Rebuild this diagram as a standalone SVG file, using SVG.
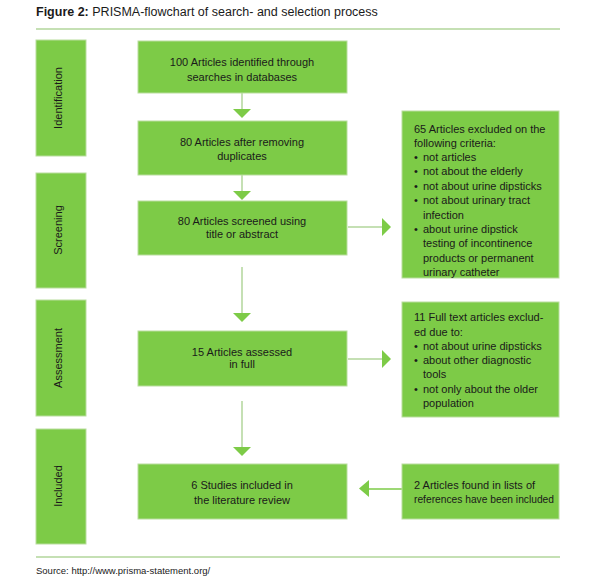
<svg xmlns="http://www.w3.org/2000/svg" width="595" height="580" viewBox="0 0 595 580">
<style>
text{font-family:"Liberation Sans",Arial,sans-serif;fill:#1a1a1a}
.box{fill:#7dcb47;stroke:#b9dd9e;stroke-width:1}
.t{font-size:11px;text-anchor:middle}
.l{font-size:11px}
.side{font-size:11px;text-anchor:middle}
.conn{stroke:#c5e0b4;stroke-width:2;fill:none}
.tri{fill:#7dcb47}
</style>
<rect width="595" height="580" fill="#fff"/>
<text x="36" y="16" style="font-size:12.5px"><tspan font-weight="bold">Figure 2:</tspan> PRISMA-flowchart of search- and selection process</text>
<line x1="36" y1="29" x2="560" y2="29" stroke="#c5e0b4" stroke-width="2"/>

<g id="phase-identification"><rect class="box" x="36" y="40" width="50" height="116"/><text class="side" transform="translate(62,98) rotate(-90)">Identification</text></g>
<g id="phase-screening"><rect class="box" x="36" y="173" width="50" height="115"/><text class="side" transform="translate(62,230) rotate(-90)">Screening</text></g>
<g id="phase-assessment"><rect class="box" x="36" y="300" width="50" height="116"/><text class="side" transform="translate(62,358) rotate(-90)">Assessment</text></g>
<g id="phase-included"><rect class="box" x="36" y="429" width="50" height="115"/><text class="side" transform="translate(62,486) rotate(-90)">Included</text></g>

<g id="connectors">
<line class="conn" x1="242" y1="93" x2="242" y2="110"/><polygon class="tri" points="233,109 251,109 242,118"/>
<line class="conn" x1="242" y1="175" x2="242" y2="192"/><polygon class="tri" points="233,191 251,191 242,200"/>
<line class="conn" x1="242" y1="267" x2="242" y2="314"/><polygon class="tri" points="233,313 251,313 242,322"/>
<line class="conn" x1="242" y1="401" x2="242" y2="448"/><polygon class="tri" points="233,447 251,447 242,456"/>
<line class="conn" x1="348" y1="227" x2="383" y2="227"/><polygon class="tri" points="382,218 382,236 391,227"/>
<line class="conn" x1="348" y1="359" x2="383" y2="359"/><polygon class="tri" points="382,350 382,368 391,359"/>
<line x1="368" y1="489" x2="402" y2="489" stroke="#7dcb47" stroke-width="1.5"/><polygon class="tri" points="369,480 369,497 359,488.5"/>
</g>

<g id="n1"><rect class="box" x="138" y="41" width="209" height="52"/><text class="t" x="242" y="66">100 Articles identified through</text><text class="t" x="242" y="81">searches in databases</text></g>
<g id="n2"><rect class="box" x="138" y="121" width="209" height="54"/><text class="t" x="242" y="146">80 Articles after removing</text><text class="t" x="242" y="160">duplicates</text></g>
<g id="n3"><rect class="box" x="138" y="201" width="209" height="54"/><text class="t" x="242" y="225">80 Articles screened using</text><text class="t" x="242" y="238">title or abstract</text></g>
<g id="n4"><rect class="box" x="138" y="331" width="209" height="55"/><text class="t" x="242" y="356">15 Articles assessed</text><text class="t" x="242" y="368">in full</text></g>
<g id="n5"><rect class="box" x="138" y="464" width="209" height="55"/><text class="t" x="242" y="489">6 Studies included in</text><text class="t" x="242" y="504">the literature review</text></g>

<g id="n6"><rect class="box" x="402" y="111" width="157" height="167"/>
<text class="l" x="414" y="133">65 Articles excluded on the</text>
<text class="l" x="414" y="147">following criteria:</text>
<text class="l" x="414" y="161">•</text><text class="l" x="423" y="161">not articles</text>
<text class="l" x="414" y="175">•</text><text class="l" x="423" y="175">not about the elderly</text>
<text class="l" x="414" y="190">•</text><text class="l" x="423" y="190">not about urine dipsticks</text>
<text class="l" x="414" y="204">•</text><text class="l" x="423" y="204">not about urinary tract</text>
<text class="l" x="423" y="219">infection</text>
<text class="l" x="414" y="233">•</text><text class="l" x="423" y="233">about urine dipstick</text>
<text class="l" x="423" y="247">testing of incontinence</text>
<text class="l" x="423" y="262">products or permanent</text>
<text class="l" x="423" y="276">urinary catheter</text>
</g>
<g id="n7"><rect class="box" x="402" y="302" width="157" height="115"/>
<text class="l" x="414" y="321">11 Full text articles exclud-</text>
<text class="l" x="414" y="336">ed due to:</text>
<text class="l" x="414" y="350">•</text><text class="l" x="423" y="350">not about urine dipsticks</text>
<text class="l" x="414" y="364">•</text><text class="l" x="423" y="364">about other diagnostic</text>
<text class="l" x="423" y="378">tools</text>
<text class="l" x="414" y="393">•</text><text class="l" x="423" y="393">not only about the older</text>
<text class="l" x="423" y="407">population</text>
</g>
<g id="n8"><rect class="box" x="402" y="464" width="157" height="55"/>
<text class="l" x="414" y="489">2 Articles found in lists of</text>
<text class="l" x="414" y="503" textLength="140" lengthAdjust="spacingAndGlyphs">references have been included</text>
</g>

<line x1="36" y1="557" x2="560" y2="557" stroke="#c5e0b4" stroke-width="2"/>
<text x="36" y="574" style="font-size:9.5px">Source: http://www.prisma-statement.org/</text>
</svg>
